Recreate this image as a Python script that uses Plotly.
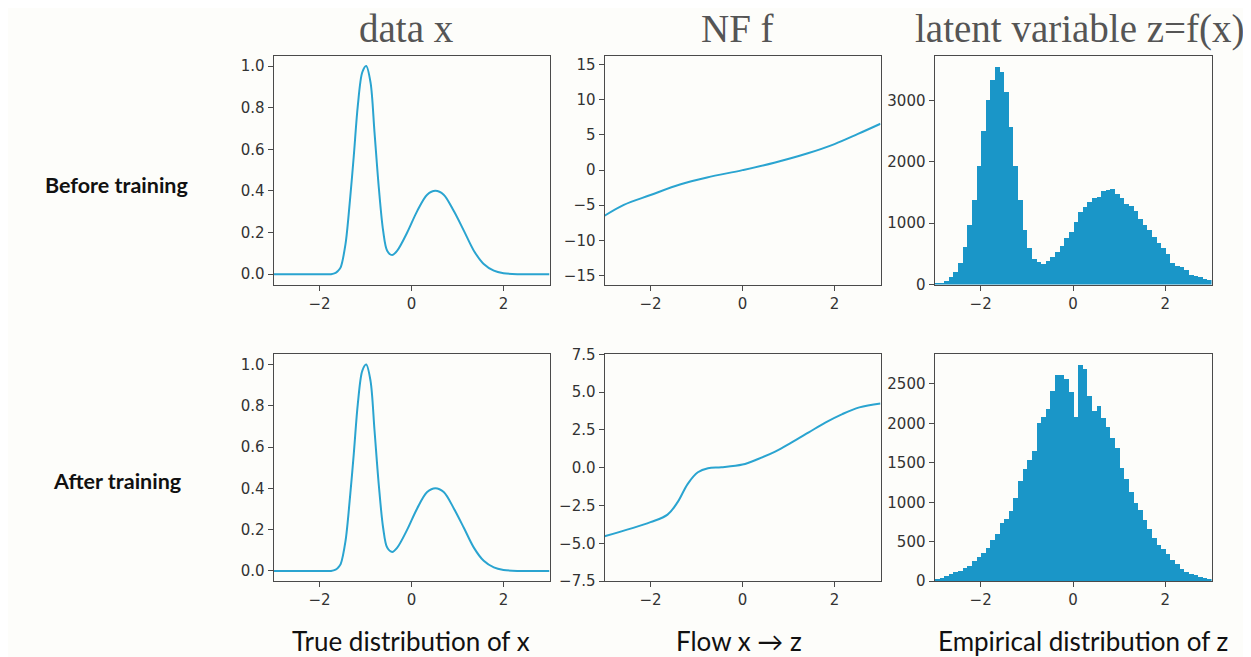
import numpy as np
import plotly.graph_objects as go

# ---------------- data ----------------
# true density of x
dens_x = [-3.0, -2.0, -1.75, -1.65, -1.6, -1.54, -1.435, -1.34, -1.254, -1.167, -1.07, -0.985,
          -0.89, -0.805, -0.71, -0.616, -0.529, -0.42, -0.31, -0.094, 0.123, 0.34, 0.52, 0.70,
          0.92, 1.14, 1.355, 1.57, 1.79, 2.0, 2.3, 3.0]
dens_y = [0.0, 0.0, 0.0, 0.006, 0.015, 0.033, 0.144, 0.35, 0.57, 0.81, 0.97, 1.0,
          0.92, 0.684, 0.414, 0.208, 0.113, 0.092, 0.113, 0.2, 0.303, 0.382, 0.401, 0.382,
          0.303, 0.208, 0.113, 0.049, 0.017, 0.005, 0.0, 0.0]

# flow before training
flow_before_x = [-3.0, -2.58, -2.0, -1.36, -0.77, 0.0, 0.69, 1.42, 2.0, 2.51, 3.0]
flow_before_y = [-6.5, -4.94, -3.55, -2.05, -1.05, 0.0, 1.05, 2.39, 3.7, 5.15, 6.6]

# flow after training
flow_after_x = [-3.0, -2.0, -1.63, -1.41, -1.19, -0.97, -0.75, -0.46, 0.0, 0.34, 0.71,
                1.07, 1.44, 1.81, 2.17, 2.54, 3.0]
flow_after_y = [-4.53, -3.59, -3.1, -2.27, -1.06, -0.3, -0.03, 0.03, 0.21, 0.58, 1.07,
                1.68, 2.34, 3.0, 3.55, 3.99, 4.25]

# histogram bins (edges -3..3, width 0.1)
bin_edges = np.round(np.linspace(-3, 3, 61), 2)
bin_centers = (bin_edges[:-1] + bin_edges[1:]) / 2

hist_before = [16, 38, 70, 124, 210, 356, 626, 977, 1382, 1932, 2515, 3011, 3341, 3551, 3470,
               3146, 2569, 1932, 1382, 896, 610, 426, 372, 340, 383, 453, 529, 637, 761, 869,
               1031, 1193, 1274, 1355, 1419, 1436, 1527, 1543, 1570, 1490, 1419, 1317, 1290,
               1204, 1074, 977, 896, 788, 680, 599, 502, 356, 313, 286, 248, 167, 140, 124,
               103, 81]
hist_after = [25, 38, 59, 84, 109, 126, 160, 189, 252, 307, 349, 420, 517, 597, 735, 786, 882,
              1050, 1269, 1416, 1534, 1647, 1996, 2076, 2177, 2408, 2614, 2614, 2563, 2390,
              2080, 2740, 2689, 2340, 2156, 2214, 2067, 1954, 1807, 1689, 1437, 1294, 1126,
              987, 903, 777, 664, 546, 462, 399, 336, 261, 210, 147, 118, 92, 71, 50, 42, 25]

col_titles = ["data x", "NF f", "latent variable z=f(x)"]
row_labels = ["Before training", "After training"]
bottom_labels = ["True distribution of x", "Flow x \u2192 z", "Empirical distribution of z"]

# ---------------- style ----------------
W, H = 1251, 657
LINE = "#2aa4d0"
BAR = "#1a96c8"
AX = "#4a4a4a"
TICKF = dict(family="DejaVu Sans", size=15, color="#333333")
BG = "#fdfdfa"

# compensation of the page offset / scaling observed in the render
def fx(xp):
    return (xp - 7.5) / W

def fy(yp):
    return 1 - ((yp - 15.2) / 0.977) / H

xdom = [[fx(273), fx(549)], [fx(604), fx(880)], [fx(934), fx(1211)]]
ydom = [[fy(284), fy(54)], [fy(582), fy(354)]]

fig = go.Figure()

def axname(i):
    return "" if i == 1 else str(i)

traces = [
    (1, go.Scatter(x=dens_x, y=dens_y, mode="lines", line=dict(color=LINE, width=2, shape="spline", smoothing=0.9))),
    (2, go.Scatter(x=flow_before_x, y=flow_before_y, mode="lines", line=dict(color=LINE, width=2, shape="spline"))),
    (3, go.Bar(x=bin_centers, y=hist_before, width=0.1, marker=dict(color=BAR, line=dict(width=0)))),
    (4, go.Scatter(x=dens_x, y=dens_y, mode="lines", line=dict(color=LINE, width=2, shape="spline", smoothing=0.9))),
    (5, go.Scatter(x=flow_after_x, y=flow_after_y, mode="lines", line=dict(color=LINE, width=2, shape="spline"))),
    (6, go.Bar(x=bin_centers, y=hist_after, width=0.1, marker=dict(color=BAR, line=dict(width=0)))),
]
for i, tr in traces:
    tr.update(xaxis="x" + axname(i), yaxis="y" + axname(i), showlegend=False, hoverinfo="skip")
    fig.add_trace(tr)

yspecs = {
    1: dict(range=[-0.05, 1.05], tickvals=[0, 0.2, 0.4, 0.6, 0.8, 1.0], tickformat=".1f"),
    2: dict(range=[-16.3, 16.3], tickvals=[-15, -10, -5, 0, 5, 10, 15]),
    3: dict(range=[0, 3730], tickvals=[0, 1000, 2000, 3000]),
    4: dict(range=[-0.05, 1.05], tickvals=[0, 0.2, 0.4, 0.6, 0.8, 1.0], tickformat=".1f"),
    5: dict(range=[-7.5, 7.5], tickvals=[-7.5, -5, -2.5, 0, 2.5, 5, 7.5], tickformat=".1f"),
    6: dict(range=[0, 2875], tickvals=[0, 500, 1000, 1500, 2000, 2500]),
}

common = dict(showline=True, linecolor=AX, linewidth=1, mirror=True, ticks="outside",
              ticklen=5, tickcolor=AX, tickwidth=1, showgrid=False, zeroline=False,
              tickfont=TICKF, fixedrange=True)

lay = {}
for i in range(1, 7):
    r = (i - 1) // 3
    c = (i - 1) % 3
    lay["xaxis" + axname(i)] = dict(domain=xdom[c], anchor="y" + axname(i), range=[-3, 3],
                                   tickvals=[-2, 0, 2], **common)
    lay["yaxis" + axname(i)] = dict(domain=ydom[r], anchor="x" + axname(i), **yspecs[i], **common)

fig.update_layout(**lay)

ann = []
for t, xp in zip(col_titles, [406, 737, 1079]):
    ann.append(dict(text=t, x=fx(xp), y=fy(27), xref="paper", yref="paper", showarrow=False,
                    xanchor="center", yanchor="middle",
                    font=dict(family="Liberation Serif", size=39, color="#555555")))
for t, yp in zip(row_labels, [184, 481]):
    ann.append(dict(text="<b>" + t + "</b>", x=fx(116), y=fy(yp), xref="paper", yref="paper",
                    showarrow=False, xanchor="center", yanchor="middle",
                    font=dict(family="Lato", size=21.5, color="#111111")))
for t, xp in zip(bottom_labels, [410, 738, 1082]):
    ann.append(dict(text=t, x=fx(xp), y=fy(642), xref="paper", yref="paper", showarrow=False,
                    xanchor="center", yanchor="middle",
                    font=dict(family="Lato", size=26, color="#111111")))

fig.update_layout(width=W, height=H, margin=dict(l=0, r=0, t=0, b=0),
                  paper_bgcolor=BG, plot_bgcolor=BG, annotations=ann, bargap=0)

fig.write_html("out.html", config=dict(displayModeBar=False))
